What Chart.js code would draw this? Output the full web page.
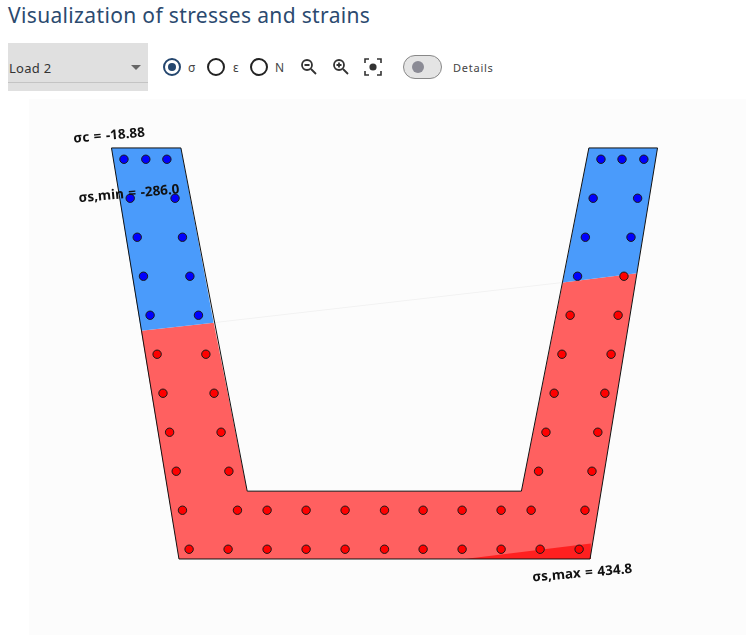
<!DOCTYPE html>
<html>
<head>
<meta charset="utf-8">
<title>Visualization of stresses and strains</title>
<script src="https://cdn.jsdelivr.net/npm/chart.js@4"></script>
<style>
  html, body { margin: 0; padding: 0; background: #fff; overflow: hidden; }
  body { width: 746px; height: 635px; position: relative; font-family: "Noto Sans", sans-serif; }
  h1 { position: absolute; left: 8px; top: 0; margin: 0; font-size: 21px; line-height: 30px; font-weight: 400; color: #2b4a6f; letter-spacing: 0.35px; white-space: nowrap; }
  .select { position: absolute; left: 8px; top: 43px; width: 140px; height: 48px; background: #e0e0e0; }
  .select span { position: absolute; left: 1px; top: 16px; font-size: 13px; line-height: 18px; color: #333; letter-spacing: 0.3px; }
  .select i { position: absolute; left: 0; top: 39px; width: 140px; height: 1px; background: #c4c4c4; }
  .select b { position: absolute; left: 123px; top: 22px; border-left: 5px solid transparent; border-right: 5px solid transparent; border-top: 5px solid #666; }
  .radio { position: absolute; top: 58px; width: 14px; height: 14px; border: 2px solid #222; border-radius: 50%; }
  .radio.on { border-color: #24466e; }
  .radio.on::after { content: ""; position: absolute; left: 3px; top: 3px; width: 8px; height: 8px; border-radius: 50%; background: #24466e; }
  .lbl { position: absolute; top: 60px; font-size: 12px; line-height: 16px; color: #444; }
  svg { position: absolute; }
  .toggle { position: absolute; left: 403px; top: 55px; width: 37px; height: 22px; background: #e4e4e4; border: 1px solid #888; border-radius: 12px; }
  .toggle::after { content: ""; position: absolute; left: 8px; top: 5px; width: 12px; height: 12px; border-radius: 50%; background: #8b8b95; }
  #chart { position: absolute; left: 29px; top: 99px; background: #fcfcfc; }
</style>
</head>
<body>
<h1>Visualization of stresses and strains</h1>
<div class="select"><span>Load 2</span><i></i><b></b></div>
<div class="radio on" style="left:163px"></div><div class="lbl" style="left:188px">σ</div>
<div class="radio" style="left:207px"></div><div class="lbl" style="left:233px">ε</div>
<div class="radio" style="left:250px"></div><div class="lbl" style="left:275px">N</div>
<svg style="left:300px;top:58px" width="18" height="18" viewBox="0 0 18 18" fill="none" stroke="#333" stroke-width="1.8">
  <circle cx="7" cy="7" r="5"/><path d="M4.5 7h5M11 11l5 5"/>
</svg>
<svg style="left:332px;top:58px" width="18" height="18" viewBox="0 0 18 18" fill="none" stroke="#333" stroke-width="1.8">
  <circle cx="7" cy="7" r="5"/><path d="M4.5 7h5M7 4.5v5M11 11l5 5"/>
</svg>
<svg style="left:364px;top:58px" width="18" height="18" viewBox="0 0 18 18" fill="none" stroke="#333" stroke-width="1.6">
  <path d="M1 5V1h4M13 1h4v4M17 13v4h-4M5 17H1v-4"/><circle cx="9" cy="9" r="3.6" fill="#333" stroke="none"/>
</svg>
<div class="toggle"></div>
<div class="lbl" style="left:453px;letter-spacing:0.75px;font-size:11px">Details</div>
<canvas id="chart" width="717" height="536"></canvas>

<script>
// section geometry in mm
const outlineX = [-700, -522, -352, 351, 524, 700, 527, -527, -700];
const outlineY = [1054, 1054, 174, 174, 1054, 1054, 0, 0, 1054];

const leftCompX = [-700, -522, -438, -624];
const leftCompY = [1054, 1054, 606, 585];
const rightCompX = [457, 647, 700, 524];
const rightCompY = [709, 733, 1054, 1054];
const tensionX = [-624, -438, -352, 351, 457, 647, 527, -527];
const tensionY = [585, 606, 174, 174, 709, 733, 0, 0];
const yieldX = [206, 527, 529];
const yieldY = [0, 0, 40];
const neutralX = [-438, 457];
const neutralY = [606, 709];

// rebars
const blueBarX = [-668, -612, -558, 555, 609, 665, -652, -537, 535, 649, -634, -518, 515, 632, -618, -499, 495, -601, -477];
const blueBarY = [1025, 1025, 1025, 1025, 1025, 1025, 925, 925, 925, 925, 825, 825, 825, 825, 725, 725, 725, 625, 625];
const redBarX = [614, 476, 599, -583, -458, 455, 581, -568, -437, 435, 565, -551, -419, 414, 547, -534, -399, 395, 532,
  -518, -377, -301, -201, -101, 0, 99, 199, 299, 376, 514,
  -501, -401, -301, -201, -101, 0, 99, 199, 299, 399, 499];
const redBarY = [725, 625, 625, 525, 525, 525, 525, 425, 425, 425, 425, 325, 325, 325, 325, 225, 225, 225, 225,
  125, 125, 125, 125, 125, 125, 125, 125, 125, 125, 125,
  25, 25, 25, 25, 25, 25, 25, 25, 25, 25, 25];

const sigmaC = "-18.88";
const sigmaSMin = "-286.0";
const sigmaSMax = "434.8";

function toPoints(xs, ys) {
  return xs.map((x, i) => ({ x: x, y: ys[i] }));
}

function zone(xs, ys, color, order) {
  return {
    data: toPoints(xs, ys),
    showLine: true,
    fill: "shape",
    backgroundColor: color,
    borderWidth: 0,
    borderColor: color,
    pointRadius: 0,
    tension: 0,
    order: order,
  };
}

function bars(xs, ys, color) {
  return {
    data: toPoints(xs, ys),
    showLine: false,
    pointRadius: 4.2,
    pointBackgroundColor: color,
    pointBorderColor: "#1a1a1a",
    pointBorderWidth: 1,
    order: 1,
  };
}

// rotated value labels, same tilt as in the app
const valueLabels = {
  id: "valueLabels",
  afterDatasetsDraw(chart) {
    const ctx = chart.ctx;
    const items = [
      ["σc = " + sigmaC, -706, 1085],
      ["σs,min = " + sigmaSMin, -655, 936],
      ["σs,max = " + sigmaSMax, 507, -37],
    ];
    ctx.save();
    ctx.font = "700 13.5px 'Noto Sans'";
    ctx.wordSpacing = "1px";
    ctx.fillStyle = "#111";
    ctx.textAlign = "center";
    ctx.textBaseline = "middle";
    items.forEach((item) => {
      ctx.save();
      ctx.translate(chart.scales.x.getPixelForValue(item[1]), chart.scales.y.getPixelForValue(item[2]));
      ctx.rotate(-5 * Math.PI / 180);
      ctx.fillText(item[0], 0, 0);
      ctx.restore();
    });
    ctx.restore();
  },
};

new Chart(document.getElementById("chart").getContext("2d"), {
  type: "scatter",
  data: {
    datasets: [
      bars(blueBarX, blueBarY, "#0000ff"),
      bars(redBarX, redBarY, "#ff0000"),
      {
        data: toPoints(outlineX, outlineY),
        showLine: true,
        fill: false,
        borderColor: "#111",
        borderWidth: 1,
        pointRadius: 0,
        tension: 0,
        order: 2,
      },
      {
        data: toPoints(neutralX, neutralY),
        showLine: true,
        fill: false,
        borderColor: "#f2f2f2",
        borderWidth: 1,
        pointRadius: 0,
        order: 3,
      },
      zone(yieldX, yieldY, "#ff2020", 4),
      zone(leftCompX, leftCompY, "#4a9bfb", 5),
      zone(rightCompX, rightCompY, "#4a9bfb", 5),
      zone(tensionX, tensionY, "#ff6060", 6),
    ],
  },
  options: {
    responsive: false,
    animation: false,
    devicePixelRatio: 1,
    layout: { padding: 0, autoPadding: false },
    plugins: { legend: { display: false }, tooltip: { enabled: false }, title: { display: false } },
    scales: {
      x: { type: "linear", display: false, min: -911.5, max: 926.9 },
      y: { type: "linear", display: false, min: -194.9, max: 1179.5 },
    },
  },
  plugins: [valueLabels],
});
</script>
</body>
</html>
